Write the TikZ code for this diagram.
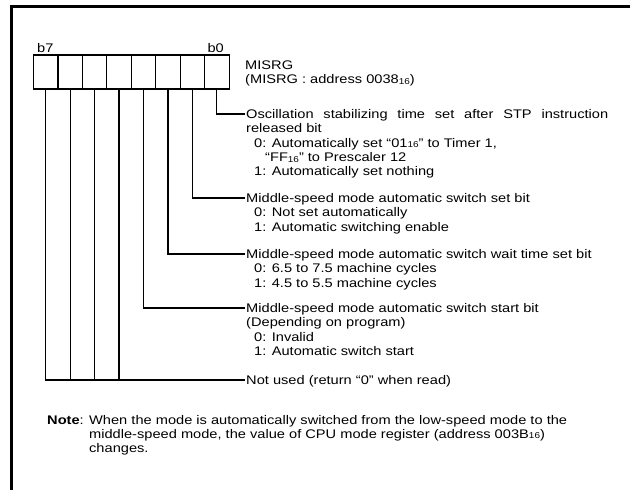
\documentclass[tikz,border=0pt]{standalone}
\usepackage{fontspec}
\setmainfont{Liberation Sans}[FakeStretch=1.17]
\usetikzlibrary{positioning}
\newcommand{\hexsub}[1]{\raisebox{-0.6pt}{\fontsize{8.5}{8.5}\selectfont #1}}
\newcommand{\lns}[1]{\begin{tabular}[t]{@{}l@{}}#1\end{tabular}}

\begin{document}
\begin{tikzpicture}[x=1pt, y=-1pt,
  font=\fontsize{12.5}{14.3}\selectfont,
  cell/.style={draw, line width=1.2pt, minimum width=24.45pt,
               minimum height=34pt, inner sep=0pt, outer sep=0pt},
  lead/.style={line width=1.2pt, shorten >=1.5pt},
  desc/.style={anchor=base west, inner sep=0pt},
  frm/.style={line width=3pt}]
\useasboundingbox (0,0) rectangle (630,490);
% frame
\draw[frm] (11,490) -- (11,6.3) -- (630,6.3);
% register bits
\node[cell, anchor=north west] (b7) at (33.5,55) {};
\node[cell, right=0pt of b7] (b6) {};
\node[cell, right=0pt of b6] (b5) {};
\node[cell, right=0pt of b5] (b4) {};
\node[cell, right=0pt of b4] (b3) {};
\node[cell, right=0pt of b3] (b2) {};
\node[cell, right=0pt of b2] (b1) {};
\node[cell, right=0pt of b1] (b0) {};
\node[anchor=base west, inner sep=0pt] (lb7) at (37,52) {b7};
\node[anchor=base east, inner sep=0pt] (lb0) at (224,52) {b0};
\node[desc] (name) at (245,69.5) {\lns{MISRG\\(MISRG : address 0038\hexsub{16})}};
% bit descriptions
\node[desc] (osc) at (246,118.5) {\lns{\makebox[362pt][s]{Oscillation stabilizing time set after STP instruction}\\
  released bit\\
  \hspace*{8pt}0: Automatically set “01\hexsub{16}” to Timer 1,\\
  \hspace*{19pt}“FF\hexsub{16}” to Prescaler 12\\
  \hspace*{8pt}1: Automatically set nothing}};
\node[desc] (mset) at (246,202.5) {\lns{Middle-speed mode automatic switch set bit\\
  \hspace*{8pt}0: Not set automatically\\
  \hspace*{8pt}1: Automatic switching enable}};
\node[desc] (mwait) at (246,258.5) {\lns{Middle-speed mode automatic switch wait time set bit\\
  \hspace*{8pt}0: 6.5 to 7.5 machine cycles\\
  \hspace*{8pt}1: 4.5 to 5.5 machine cycles}};
\node[desc] (mstart) at (246,312.5) {\lns{Middle-speed mode automatic switch start bit\\
  (Depending on program)\\
  \hspace*{8pt}0: Invalid\\
  \hspace*{8pt}1: Automatic switch start}};
\node[desc] (nu) at (246,384.5) {Not used (return “0” when read)};
\coordinate (nuy) at ([yshift=4.5pt]nu.base west);
% leaders
\draw[lead] (b0.south) |- ([yshift=4.5pt]osc.base west);
\draw[lead] (b1.south) |- ([yshift=4.5pt]mset.base west);
\draw[lead] (b2.south) |- ([yshift=4.5pt]mwait.base west);
\draw[lead] (b3.south) |- ([yshift=4.5pt]mstart.base west);
\draw[lead] (b7.south) |- (nuy);
\draw[lead, shorten >=0pt] (b6.south) -- (b6.south |- nuy);
\draw[lead, shorten >=0pt] (b5.south) -- (b5.south |- nuy);
\draw[lead, shorten >=0pt] (b4.south) -- (b4.south |- nuy);
% note
\node[desc] (note) at (47,424) {\lns{\textbf{Note}: When the mode is automatically switched from the low-speed mode to the\\
  \phantom{\textbf{Note}: }middle-speed mode, the value of CPU mode register (address 003B\hexsub{16})\\
  \phantom{\textbf{Note}: }changes.}};
\end{tikzpicture}
\end{document}
